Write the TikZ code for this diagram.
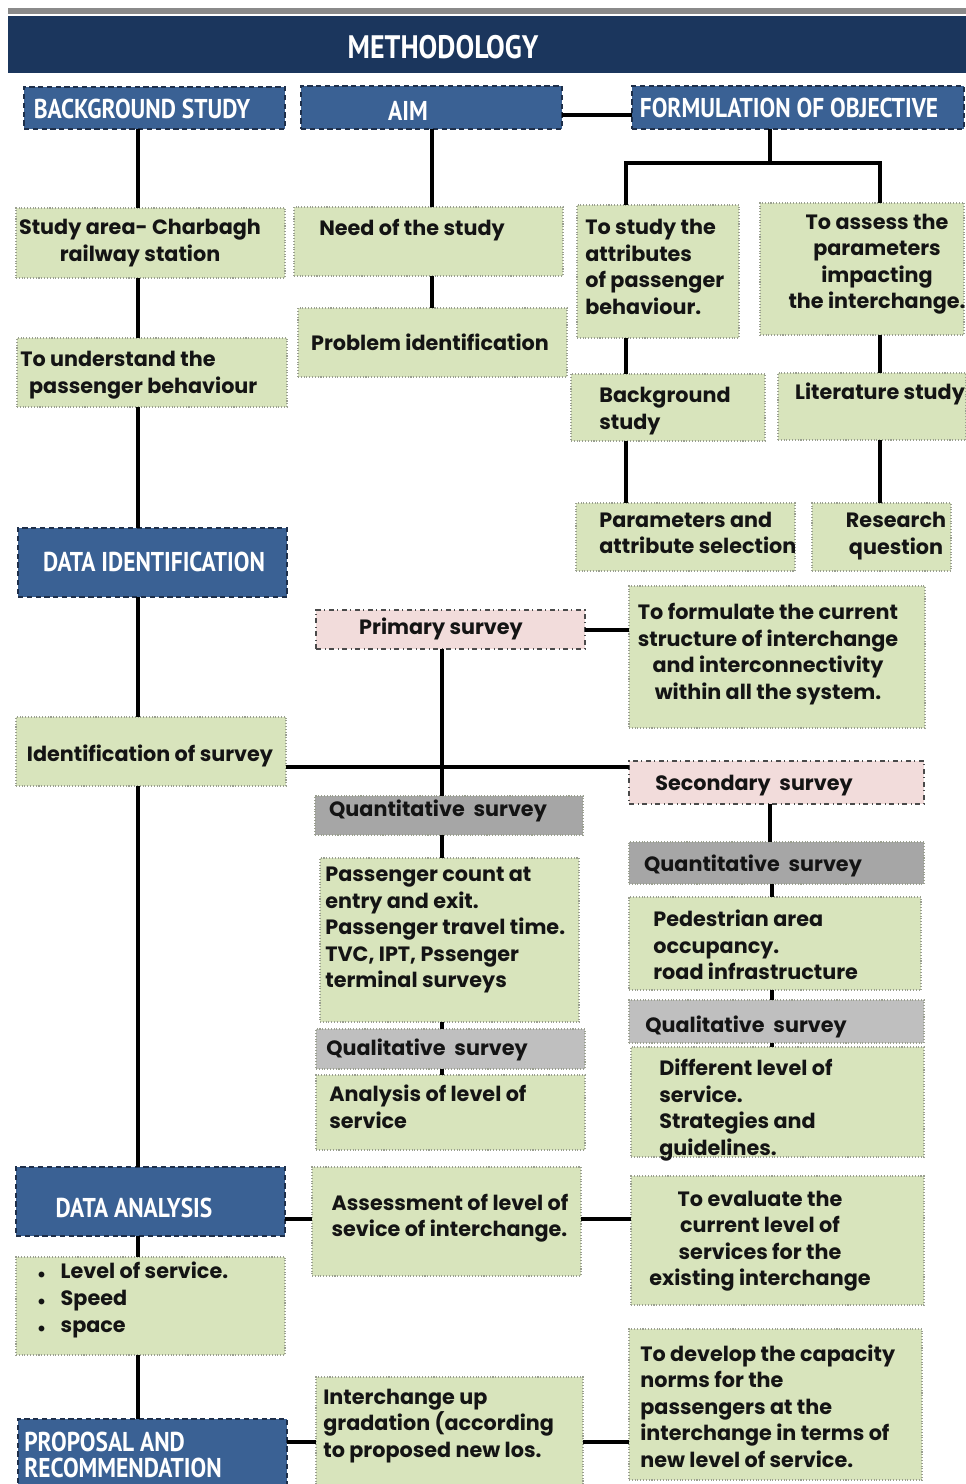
\documentclass[tikz,border=0pt]{standalone}
\usepackage{fontspec}
\setmainfont{Poppins}
\newfontfamily\headfont{PT Sans}[FakeStretch=0.86]
\usetikzlibrary{fit}

\definecolor{navyhead}{HTML}{1B365D}
\definecolor{blueb}{HTML}{3A6194}
\definecolor{blueedge}{HTML}{1E2F4A}
\definecolor{greenf}{HTML}{D8E4BC}
\definecolor{greenedge}{HTML}{9A9F90}
\definecolor{pinkf}{HTML}{F2DCDB}
\definecolor{pinkedge}{HTML}{4A4A4A}
\definecolor{quantf}{HTML}{A6A6A6}
\definecolor{qualf}{HTML}{BFBFBF}
\definecolor{topline}{HTML}{8A8A8A}
\definecolor{ink}{HTML}{141414}

% box drawn between two corner points: style, name, x1, y1, x2, y2
\newcommand{\bx}[6]{\node[#1, fit={(#3,#4) (#5,#6)}] (#2) {};}
% small list bullet
\newcommand{\lbul}{\makebox[15pt][l]{\hspace*{2pt}$\scriptstyle\bullet$}}

\tikzset{
  base/.style={inner sep=0pt, outer sep=0pt, rectangle},
  headbar/.style={base, fill=navyhead},
  bluebox/.style={base, fill=blueb, draw=blueedge, densely dashed, line width=0.9pt},
  greenbox/.style={base, fill=greenf, draw=greenedge, densely dotted, line width=0.6pt},
  pinkbox/.style={base, fill=pinkf, draw=pinkedge, dash dot, line width=0.8pt},
  quantbox/.style={base, fill=quantf, draw=greenedge, densely dotted, line width=0.6pt},
  qualbox/.style={base, fill=qualf, draw=greenedge, densely dotted, line width=0.6pt},
  txt/.style={inner sep=0pt, text=ink, font=\fontsize{11.8}{15.1}\selectfont\bfseries},
  htxt/.style={inner sep=0pt, text=white, font=\headfont\fontsize{15.5}{15.3}\selectfont\bfseries},
  conn/.style={line width=2.3pt, black},
}

\begin{document}
\begin{tikzpicture}[x=0.02cm, y=-0.02cm]
\useasboundingbox (0,0) rectangle (966,1484);

% title band
\fill[topline] (8,8) rectangle (966,14);
\bx{headbar}{title}{8}{16}{966}{73}
\node[htxt, font=\headfont\fontsize{18.5}{20}\selectfont\bfseries] (titlet) at (443,47) {METHODOLOGY};

% top row headings
\bx{bluebox}{bg}{24}{87}{285}{129}
\node[htxt] (bgt) at (142,109) {BACKGROUND STUDY};
\bx{bluebox}{aim}{301}{86}{562}{129}
\node[htxt] (aimt) at (408,111) {AIM};
\bx{bluebox}{form}{632}{86}{964}{129}
\node[htxt] (formt) at (789,108) {FORMULATION OF OBJECTIVE};

% left column
\bx{greenbox}{study}{16}{208}{285}{278}
\node[txt, align=center] (studyt) at (140,243) {Study area- Charbagh\\railway station};
\bx{greenbox}{underst}{17}{338}{287}{407}
\node[txt, align=left, anchor=west] (understt) at (20,375) {To understand the\\\hspace*{5pt}passenger behaviour};
\bx{bluebox}{dataid}{18}{528}{287}{597}
\node[htxt] (dataidt) at (154,562) {DATA IDENTIFICATION};
\bx{greenbox}{ident}{16}{717}{286}{786}
\node[txt] (identt) at (150,756) {Identification of survey};
\bx{bluebox}{analysis}{16}{1167}{285}{1236}
\node[htxt] (analysist) at (134,1208) {DATA ANALYSIS};
\bx{greenbox}{bullets}{16}{1257}{285}{1355}
\node[txt, anchor=north west, align=left] (bulletst) at (34,1262)
  {\lbul Level of service.\\\lbul Speed\\\lbul space};
\bx{bluebox}{proposal}{18}{1419}{287}{1490}
\node[htxt, anchor=west, align=left] (proposalt) at (24,1455) {PROPOSAL AND\\RECOMMENDATION};

% aim column
\bx{greenbox}{need}{294}{207}{563}{276}
\node[txt] (needt) at (412,230) {Need of the study};
\bx{greenbox}{problem}{298}{308}{567}{377}
\node[txt] (problemt) at (430,342) {Problem identification};

% objective columns
\bx{greenbox}{attr}{577}{205}{739}{338}
\node[txt, anchor=west, align=left] (attrt) at (585,267) {To study the\\attributes\\of passenger\\behaviour.};
\bx{greenbox}{assess}{760}{203}{964}{335}
\node[txt, align=center] (assesst) at (877,264) {To assess the\\parameters\\impacting\\the interchange.};
\bx{greenbox}{bgs}{571}{374}{765}{441}
\node[txt, anchor=west, align=left] (bgst) at (599,411) {Background\\study};
\bx{greenbox}{lit}{778}{373}{966}{440}
\node[txt] (litt) at (880,394) {Literature study};
\bx{greenbox}{param}{576}{503}{795}{571}
\node[txt, anchor=west, align=left] (paramt) at (599,533) {Parameters and\\attribute selection};
\bx{greenbox}{rq}{812}{503}{951}{571}
\node[txt, align=center] (rqt) at (896,536) {Research\\question};

% surveys
\bx{pinkbox}{primary}{316}{610}{585}{649}
\node[txt] (primaryt) at (441,629) {Primary survey};
\bx{greenbox}{formulate}{629}{586}{925}{728}
\node[txt, align=center] (formulatet) at (768,654) {To formulate the current\\structure of interchange\\and interconnectivity\\within all the system.};
\bx{pinkbox}{secondary}{629}{761}{924}{804}
\node[txt] (secondaryt) at (754,786) {Secondary\ \ survey};
\bx{quantbox}{quantM}{315}{796}{583}{835}
\node[txt] (quantMt) at (438,811) {Quantitative\ \ survey};
\bx{quantbox}{quantR}{629}{842}{924}{884}
\node[txt] (quantRt) at (753,866) {Quantitative\ \ survey};
\bx{greenbox}{pass}{320}{858}{579}{1022}
\node[txt, anchor=west, align=left] (passt) at (325,930) {Passenger count at\\entry and exit.\\Passenger travel time.\\TVC, IPT, Pssenger\\terminal surveys};
\bx{greenbox}{ped}{629}{897}{921}{990}
\node[txt, anchor=west, align=left] (pedt) at (653,945) {Pedestrian area\\occupancy.\\road infrastructure};
\bx{qualbox}{qualM}{316}{1029}{585}{1069}
\node[txt] (qualMt) at (427,1050) {Qualitative\ \ survey};
\bx{qualbox}{qualR}{629}{1000}{924}{1043}
\node[txt] (qualRt) at (746,1027) {Qualitative\ \ survey};
\bx{greenbox}{los}{316}{1075}{585}{1150}
\node[txt, anchor=west, align=left] (lost) at (329,1107) {Analysis of level of\\service};
\bx{greenbox}{diff}{631}{1047}{924}{1157}
\node[txt, anchor=west, align=left] (difft) at (659,1110) {Different level of\\service.\\Strategies and\\guidelines.};

% analysis and proposal rows
\bx{greenbox}{assess2}{312}{1167}{581}{1276}
\node[txt, align=left] (assess2t) at (450,1218) {Assessment of level of\\sevice of interchange.};
\bx{greenbox}{evaluate}{631}{1176}{924}{1305}
\node[txt, align=center] (evaluatet) at (760,1241) {To evaluate the\\current level of\\services for the\\existing interchange};
\bx{greenbox}{interch}{316}{1377}{583}{1490}
\node[txt, anchor=west, align=left] (interchT) at (323,1426) {Interchange up\\gradation (according\\to proposed new los.};
\bx{greenbox}{develop}{629}{1329}{922}{1480}
\node[txt, anchor=west, align=left] (developt) at (640,1406) {To develop the capacity\\norms for the\\passengers at the\\interchange in terms of\\new level of service.};

% connector guide positions
\coordinate (xL) at (138,0);
\coordinate (xM) at (432,0);
\coordinate (xF) at (770,0);
\coordinate (xS1) at (626,0);
\coordinate (xS2) at (880,0);
\coordinate (xP) at (442,0);
\coordinate (xR) at (772,0);
\coordinate (yA) at (0,115);
\coordinate (jB) at (770,163);
\coordinate (yP) at (0,630);
\coordinate (yI) at (0,767);
\coordinate (yD) at (0,1219);
\coordinate (yR) at (0,1442);

% left spine
\draw[conn] (bg.south -| xL) -- (study.north -| xL);
\draw[conn] (study.south -| xL) -- (underst.north -| xL);
\draw[conn] (underst.south -| xL) -- (dataid.north -| xL);
\draw[conn] (dataid.south -| xL) -- (ident.north -| xL);
\draw[conn] (ident.south -| xL) -- (analysis.north -| xL);
\draw[conn] (analysis.south -| xL) -- (bullets.north -| xL);
\draw[conn] (bullets.south -| xL) -- (proposal.north -| xL);

% aim column
\draw[conn] (aim.south -| xM) -- (need.north -| xM);
\draw[conn] (need.south -| xM) -- (problem.north -| xM);
\draw[conn] (aim.east |- yA) -- (form.west |- yA);

% objective branches
\draw[conn] (form.south -| jB) -- (jB);
\draw[conn] (attr.north -| xS1) |- (jB) -| (assess.north -| xS2);
\draw[conn] (attr.south -| xS1) -- (bgs.north -| xS1);
\draw[conn] (bgs.south -| xS1) -- (param.north -| xS1);
\draw[conn] (assess.south -| xS2) -- (lit.north -| xS2);
\draw[conn] (lit.south -| xS2) -- (rq.north -| xS2);

% survey links
\draw[conn] (primary.east |- yP) -- (formulate.west |- yP);
\draw[conn] (primary.south -| xP) -- (quantM.north -| xP);
\draw[conn] (ident.east |- yI) -- (secondary.west |- yI);
\draw[conn] (quantM.south -| xP) -- (pass.north -| xP);
\draw[conn] (pass.south -| xP) -- (qualM.north -| xP);
\draw[conn] (qualM.south -| xP) -- (los.north -| xP);
\draw[conn] (secondary.south -| xF) -- (quantR.north -| xF);
\draw[conn] (quantR.south -| xR) -- (ped.north -| xR);
\draw[conn] (ped.south -| xR) -- (qualR.north -| xR);
\draw[conn] (qualR.south -| xR) -- (diff.north -| xR);

% analysis and proposal links
\draw[conn] (analysis.east |- yD) -- (assess2.west |- yD);
\draw[conn] (assess2.east |- yD) -- (evaluate.west |- yD);
\draw[conn] (proposal.east |- yR) -- (interch.west |- yR);
\draw[conn] (interch.east |- yR) -- (develop.west |- yR);
\end{tikzpicture}
\end{document}
